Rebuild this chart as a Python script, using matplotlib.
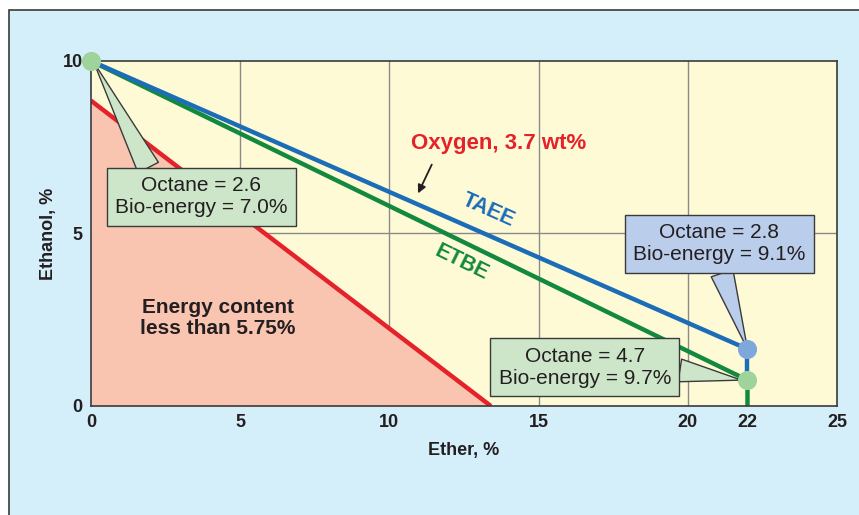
import matplotlib.pyplot as plt
from matplotlib.patches import Rectangle

# data
taee_x = [0, 22, 22]
taee_y = [10, 1.65, 0.75]
etbe_x = [0, 22, 22]
etbe_y = [10, 0.75, 0]
oxygen_x = [0, 13.4]
oxygen_y = [8.85, 0]
x_ticks = [0, 5, 10, 15, 20, 22, 25]
y_ticks = [0, 5, 10]

plt.rcParams['font.family'] = ['Liberation Sans', 'DejaVu Sans']

RED = '#E42229'
BLUE = '#1C6DB8'
GREEN = '#12893F'
DARK = '#231F20'

fig = plt.figure(figsize=(8.59, 5.15), dpi=100)
fig.patch.set_facecolor('white')
# light blue panel behind the chart
fig.patches.append(Rectangle((9 / 859, -0.05), 1.0, 1 - 10 / 515 + 0.05,
                             transform=fig.transFigure, facecolor='#D4EEFA',
                             edgecolor='#3a3a3a', linewidth=1.2, zorder=-10))

ax = fig.add_axes([91 / 859, 1 - 406 / 515, (837 - 91) / 859, (406 - 61) / 515])
ax.set_facecolor('#FFFAD6')
ax.set_xlim(0, 25)
ax.set_ylim(0, 10)
ax.set_xticks(x_ticks)
ax.set_yticks(y_ticks)
ax.tick_params(length=0, labelsize=13, colors=DARK, pad=6)
for lab in ax.get_xticklabels() + ax.get_yticklabels():
    lab.set_fontweight('bold')
for x in [5, 10, 15, 20]:
    ax.axvline(x, color='#8a8a8a', lw=1, zorder=1)
ax.axhline(5, color='#8a8a8a', lw=1, zorder=1)
for s in ax.spines.values():
    s.set_color('#3a3a3a')
    s.set_linewidth(1.2)
    s.set_zorder(6)

# region below the oxygen limit
ax.fill_between(oxygen_x, oxygen_y, 0, color='#F9C5B1', zorder=2, lw=0)
ax.plot(oxygen_x, oxygen_y, color=RED, lw=3.2, zorder=3, solid_capstyle='butt')
ax.plot(etbe_x, etbe_y, color=GREEN, lw=3.2, zorder=3, solid_capstyle='butt')
ax.plot(taee_x[:2], taee_y[:2], color=BLUE, lw=3.2, zorder=4, solid_capstyle='butt')
ax.plot(taee_x[1:], taee_y[1:], color=BLUE, lw=3.2, zorder=3, solid_capstyle='butt')

ax.scatter([0], [10], s=190, color='#9ED49B', zorder=7, clip_on=False, lw=0)
ax.scatter([22], [taee_y[1]], s=190, color='#7EA7DC', zorder=7, lw=0)
ax.scatter([22], [etbe_y[1]], s=190, color='#9ED49B', zorder=7, lw=0)

ax.text(4.26, 2.55, 'Energy content\nless than 5.75%', ha='center', va='center',
        fontsize=15, fontweight='bold', color=DARK, zorder=5, linespacing=1.1)
ax.text(13.67, 7.62, 'Oxygen, 3.7 wt%', ha='center', va='center',
        fontsize=16, fontweight='bold', color=RED, zorder=5)
ax.annotate('', xy=(10.92, 6.09), xytext=(11.46, 7.07),
            arrowprops=dict(arrowstyle='-|>', color=DARK, lw=1.3, mutation_scale=12),
            zorder=5)
ax.text(13.3, 5.68, 'TAEE', ha='center', va='center', rotation=-24,
        fontsize=15.5, fontweight='bold', color=BLUE, zorder=5)
ax.text(12.43, 4.17, 'ETBE', ha='center', va='center', rotation=-26,
        fontsize=15.5, fontweight='bold', color=GREEN, zorder=5)


def callout(text, xy, xytext, fc, relpos):
    ax.annotate(text, xy=xy, xytext=xytext, ha='center', va='center',
                fontsize=15, color=DARK, zorder=6, linespacing=1.2,
                bbox=dict(boxstyle='square,pad=0.4', fc=fc, ec='#3a3a3a', lw=1),
                arrowprops=dict(arrowstyle='wedge,tail_width=1.1', fc=fc, ec='#3a3a3a',
                                lw=1, relpos=relpos, shrinkA=0, shrinkB=0))


callout('Octane = 2.6\nBio-energy = 7.0%', (0.1, 9.95), (3.69, 6.06), '#CDE6C9', (0.22, 1.0))
callout('Octane = 2.8\nBio-energy = 9.1%', (22, taee_y[1]), (21.05, 4.70), '#BACDEB', (0.5, 0.0))
callout('Octane = 4.7\nBio-energy = 9.7%', (21.8, etbe_y[1]), (16.55, 1.13), '#CDE6C9', (1.0, 0.45))

ax.set_xlabel('Ether, %', fontsize=13, fontweight='bold', color=DARK, labelpad=8)
ax.set_ylabel('Ethanol, %', fontsize=13, fontweight='bold', color=DARK, labelpad=4)

fig.savefig('out.png', dpi=100)
